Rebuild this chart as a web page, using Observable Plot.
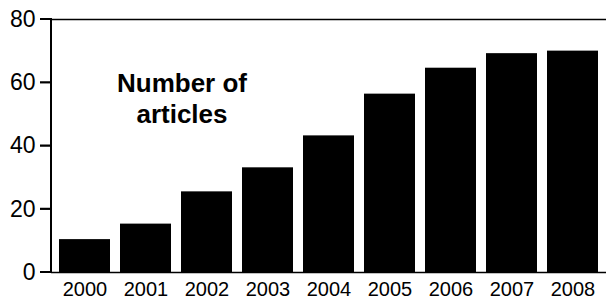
<!DOCTYPE html>
<html>
<head>
<meta charset="utf-8">
<script src="https://cdn.jsdelivr.net/npm/d3@7"></script>
<script src="https://cdn.jsdelivr.net/npm/@observablehq/plot@0.6"></script>
<style>
  html, body { margin: 0; padding: 0; background: #fff; overflow: hidden; width: 606px; height: 300px; }
  #chart svg { display: block; overflow: hidden; }
</style>
</head>
<body>
<div id="chart"></div>
<script>
const years = ["2000","2001","2002","2003","2004","2005","2006","2007","2008"];
const articles = [10.4, 15.3, 25.5, 33.1, 43.2, 56.4, 64.6, 69.2, 70];
const yTicks = [0, 20, 40, 60, 80];
const annotation = ["Number of", "articles"];

const data = years.map((y, i) => ({year: y, value: articles[i]}));

const W = 606, H = 300, ML = 51, MR = 0, MT = 19, MB = 28;

const chart = Plot.plot({
  width: W,
  height: H,
  marginLeft: ML,
  marginRight: MR,
  marginTop: MT,
  marginBottom: MB,
  style: {fontFamily: "'Liberation Sans', Arial, sans-serif", background: "#fff", color: "#000", overflow: "hidden"},
  x: {domain: years, paddingInner: 0.17, paddingOuter: 0.1, label: null, tickSize: 0, tickPadding: 9},
  y: {domain: [yTicks[0], yTicks[yTicks.length - 1]], ticks: yTicks, tickSize: 11, tickPadding: 5, label: null},
  marks: [
    Plot.barY(data, {x: "year", y: "value", fill: "#000"}),
    Plot.ruleY([yTicks[0], yTicks[yTicks.length - 1]], {stroke: "#000", strokeWidth: 1.5})
  ]
});

const svg = d3.select(chart);
svg.selectAll("g[aria-label='y-axis tick label'] text").style("font-size", "23px");
svg.selectAll("g[aria-label='x-axis tick label'] text").style("font-size", "20px");

// annotation
svg.append("text")
  .attr("text-anchor", "middle")
  .attr("font-size", 26)
  .attr("font-weight", "bold")
  .attr("fill", "#000")
  .selectAll("tspan").data(annotation).join("tspan")
  .attr("x", ML + 131)
  .attr("y", (d, i) => 92 + i * 31)
  .text(d => d);

// left axis line and tick marks, positioned through the y scale, drawn last
const yScale = chart.scale("y");
const axisG = svg.append("g").attr("fill", "#000");
axisG.append("rect")
  .attr("x", ML - 1).attr("width", 2)
  .attr("y", yScale.apply(yTicks[yTicks.length - 1]) - 1)
  .attr("height", yScale.apply(yTicks[0]) - yScale.apply(yTicks[yTicks.length - 1]) + 2);
axisG.selectAll("rect.tk").data(yTicks).join("rect")
  .attr("class", "tk")
  .attr("x", ML - 11).attr("width", 11)
  .attr("y", d => yScale.apply(d) - 1).attr("height", 2);

document.getElementById("chart").appendChild(chart);
</script>
</body>
</html>
